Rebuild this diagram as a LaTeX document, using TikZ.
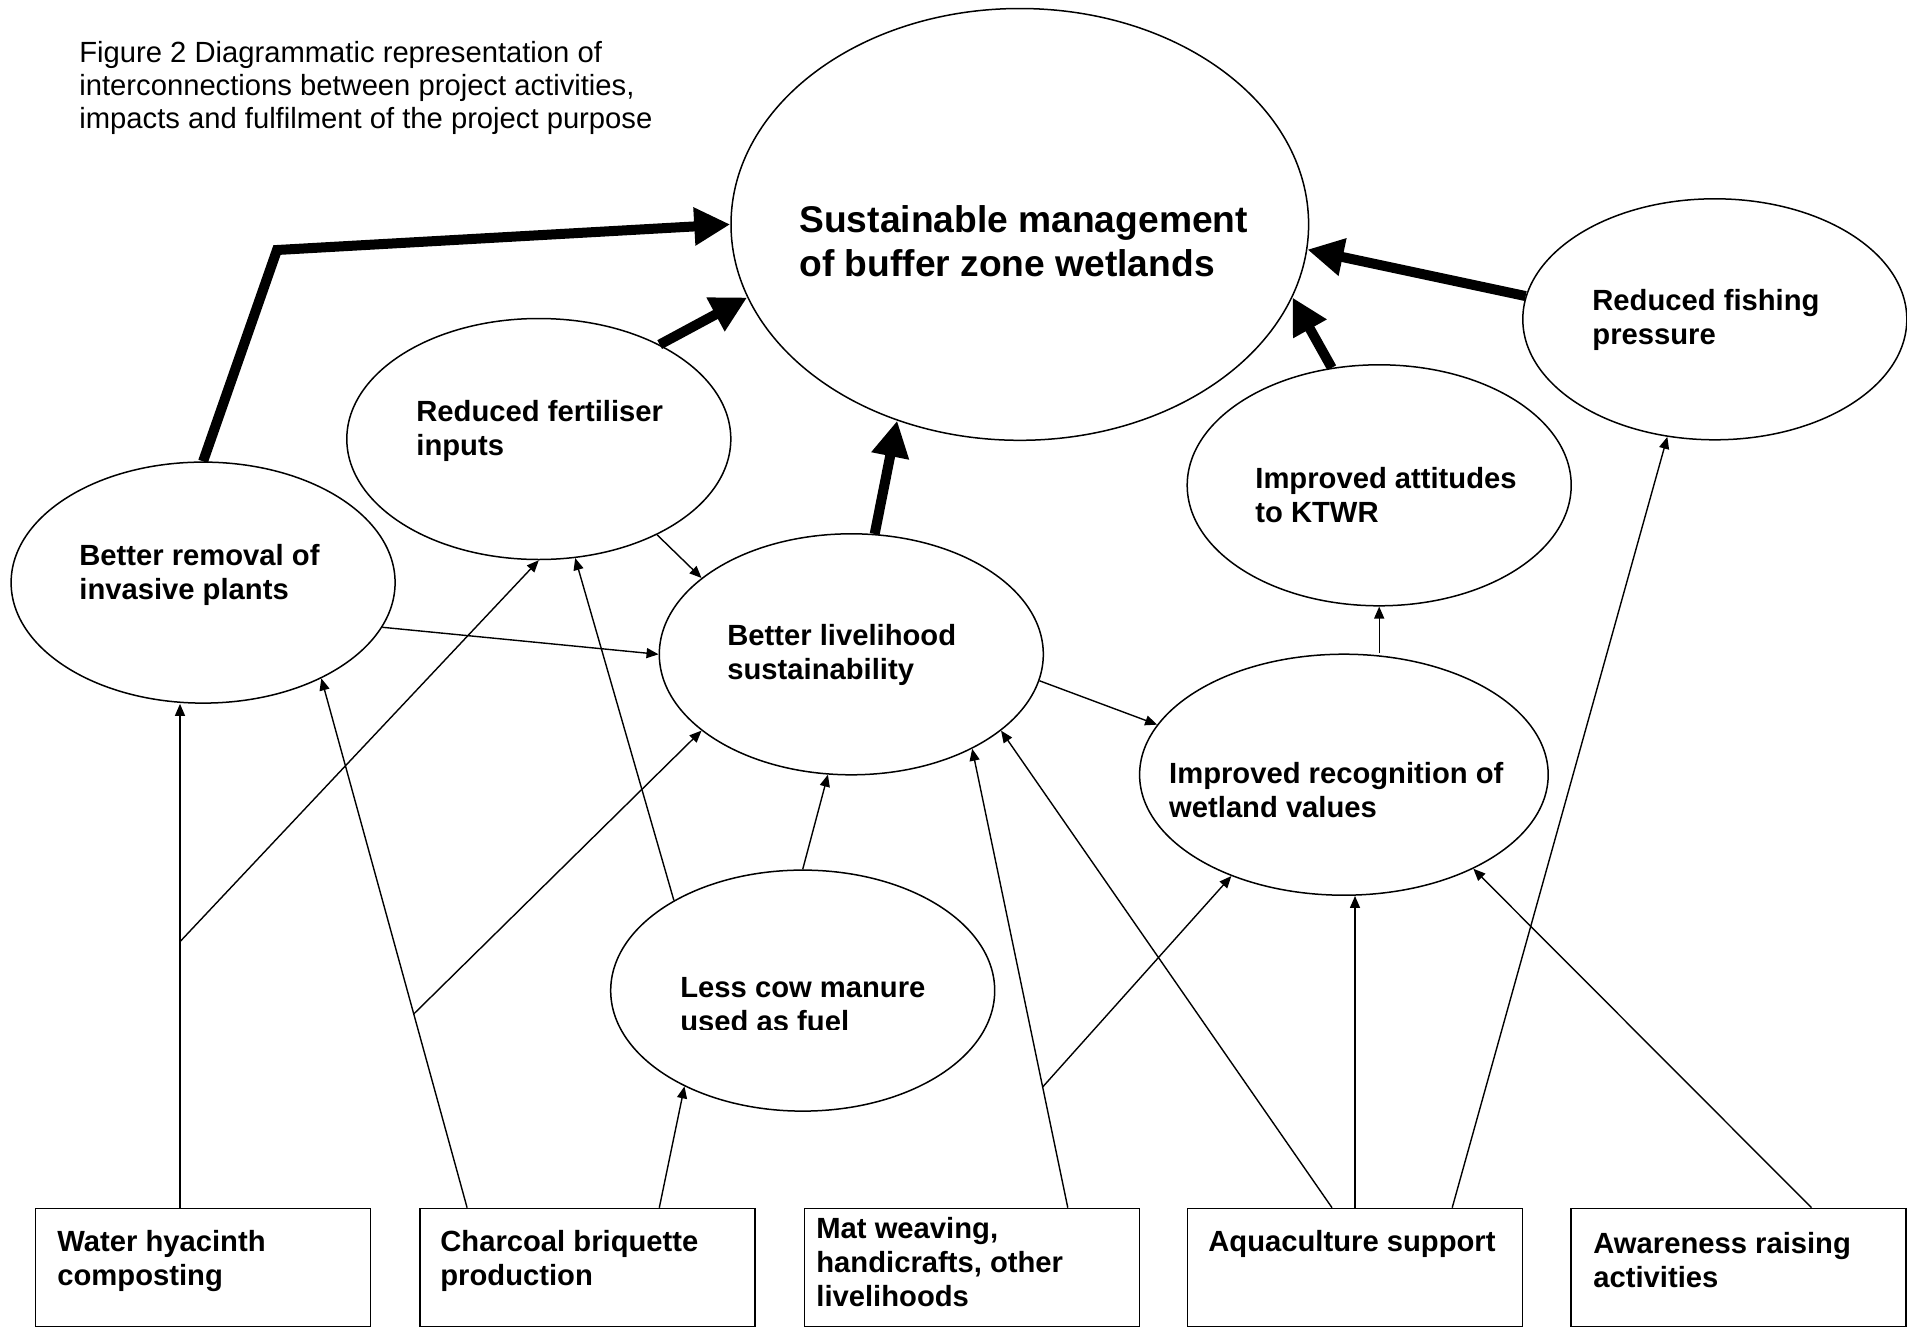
\documentclass[tikz,border=0pt]{standalone}
\usepackage{fontspec}
\setmainfont{Liberation Sans}
\usetikzlibrary{shapes.geometric,arrows.meta}
\begin{document}
\begin{tikzpicture}[x=0.5pt,y=-0.5pt,
  oval/.style={draw,ellipse,line width=0.75pt,minimum width=192pt,minimum height=120.5pt,inner sep=0pt},
  actbox/.style={draw,rectangle,line width=0.75pt,minimum width=167.5pt,minimum height=59pt,inner sep=0pt,anchor=north},
  lbl/.style={anchor=west,align=left,inner sep=0pt,font=\fontsize{14.6}{17}\selectfont\bfseries},
  link/.style={line width=0.7pt,-{Triangle[length=6pt,width=5pt]}},
  bigarrow/.style={line width=5pt,-{Triangle[length=18pt,width=18pt]}}]
\useasboundingbox (0,0) rectangle (1907,1328);
\node[oval,minimum width=288.8pt,minimum height=215.9pt] (main) at (1019.8,224.4) {};
\node[oval] (fish) at (1714.8,319.3) {};
\node[oval] (attitudes) at (1379.2,485.3) {};
\node[oval] (fertiliser) at (538.8,439) {};
\node[oval] (removal) at (203.1,582.6) {};
\node[oval] (livelihood) at (851.3,654.3) {};
\node[oval,minimum width=204.3pt] (recognition) at (1343.9,774.7) {};
\node[oval] (cow) at (802.7,990.6) {};
\node[actbox] (water) at (203,1207.7) {};
\node[actbox] (charcoal) at (587.5,1207.7) {};
\node[actbox] (mat) at (971.8,1207.7) {};
\node[actbox] (aqua) at (1355,1207.7) {};
\node[actbox] (aware) at (1738.5,1207.7) {};
\node[lbl,font=\fontsize{14.6}{16.4}\selectfont] (title) at (79,88.2) {Figure 2 Diagrammatic representation of\\interconnections between project activities,\\impacts and fulfilment of the project purpose};
\node[lbl,font=\fontsize{18.6}{22}\selectfont\bfseries] (main-t) at (799,241) {Sustainable management\\of buffer zone wetlands};
\node[lbl] (fish-t) at (1592,319.5) {Reduced fishing\\pressure};
\node[lbl] (attitudes-t) at (1255,495.5) {Improved attitudes\\to KTWR};
\node[lbl] (fertiliser-t) at (416,431) {Reduced fertiliser\\inputs};
\node[lbl] (removal-t) at (79,574.6) {Better removal of\\invasive plants};
\node[lbl] (livelihood-t) at (727,655) {Better livelihood\\sustainability};
\node[lbl] (recognition-t) at (1168.8,790) {Improved recognition of\\wetland values};
\begin{scope}
\clip (0,0) rectangle (1907,1029);
\node[lbl] (cow-t) at (680,1005) {Less cow manure\\used as fuel};
\end{scope}
\node[lbl] (water-t) at (57,1261) {Water hyacinth\\composting};
\node[lbl] (charcoal-t) at (440,1261) {Charcoal briquette\\production};
\node[lbl] (mat-t) at (816,1262) {Mat weaving,\\handicrafts, other\\livelihoods};
\node[lbl] (aqua-t) at (1208,1244) {Aquaculture support};
\node[lbl] (aware-t) at (1593,1260) {Awareness raising\\activities};
\coordinate (bend) at (277,250);
\draw[bigarrow] (removal.north) -- (bend) -- (main.180);
\draw[bigarrow] (fertiliser.38) -- (main.195);
\draw[bigarrow] (livelihood.79) -- (main.238);
\draw[bigarrow] (attitudes.112) -- (main.345);
\draw[bigarrow] (fish.173) -- (main.355.5);
\draw[link] (fertiliser.321) -- (livelihood.153);
\draw[link] (removal.346) -- (livelihood.west);
\draw[link] (livelihood.352) -- (recognition.165);
\draw[link] (attitudes.south |- recognition.north) -- (attitudes.south);
\draw[link] ([xshift=-11.5pt]water.north) -- coordinate[pos=0.528] (wbranch) ([xshift=-11.5pt]water.north |- removal.south);
\draw[link] (wbranch) -- (fertiliser.south);
\draw[link] ([xshift=-60.2pt]charcoal.north) -- coordinate[pos=0.366] (cbranch) (removal.321);
\draw[link] (cbranch) -- (livelihood.207);
\draw[link] ([xshift=35.9pt]charcoal.north) -- (cow.219);
\draw[link] (cow.north) -- (livelihood.259);
\draw[link] (cow.145) -- (fertiliser.287);
\draw[link] ([xshift=48pt]mat.north) -- coordinate[pos=0.263] (mbranch) (livelihood.322);
\draw[link] (mbranch) -- (recognition.222);
\draw[link] ([xshift=-11.5pt]aqua.north) -- (livelihood.333);
\draw[link] (aqua.north) -- (aqua.north |- recognition.south);
\draw[link] ([xshift=48.6pt]aqua.north) -- (fish.248);
\draw[link] ([xshift=36.5pt]aware.north) -- (recognition.324);
\end{tikzpicture}
\end{document}
